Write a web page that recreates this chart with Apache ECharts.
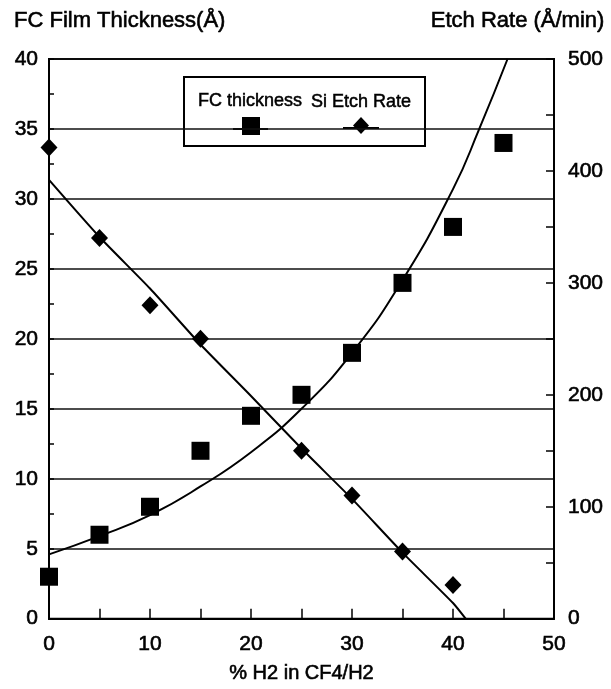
<!DOCTYPE html>
<html>
<head>
<meta charset="utf-8">
<script src="https://cdn.jsdelivr.net/npm/echarts@6/dist/echarts.min.js"></script>
<style>
  html, body { margin: 0; padding: 0; background: #fff; }
  #chart { width: 611px; height: 689px; }
</style>
</head>
<body>
<div id="chart"></div>
<script>
// ---- Data ----
const fcX = [0, 5, 10, 15, 20, 25, 30, 35, 40, 45];
const fcThickness = [3.0, 6.0, 8.0, 12.0, 14.5, 16.0, 19.0, 24.0, 28.0, 34.0];

const etchX = [0, 5, 10, 15, 25, 30, 35, 40];
const etchRate = [421, 340, 280, 250, 150, 110, 60, 30];

// fitted curves as drawn in the reference
const fcFitX = [0, 5, 10, 15, 20, 25, 30, 35, 40, 42.6, 45.4];
const fcFitY = [4.6, 5.9, 7.4, 9.45, 11.9, 15.0, 19.0, 24.2, 30.7, 35, 40];

const etchFitX = [0, 5, 10, 15, 20, 25, 30, 35, 40, 41.25];
const etchFitY = [392, 341, 295, 245, 199, 152, 107, 59, 14, 0];

const leftTitle = 'FC Film Thickness(Å)';
const rightTitle = 'Etch Rate (Å/min)';
const xTitle = '% H2 in CF4/H2';
const legendNames = ['FC thickness', 'Si Etch Rate'];

const FONT = '"Liberation Sans", Arial, Helvetica, sans-serif';
const zip = (xs, ys) => xs.map((x, i) => [x, ys[i]]);
const heavy = { textBorderColor: '#000', textBorderWidth: 0.6 };

const chart = echarts.init(document.getElementById('chart'), null, { renderer: 'canvas' });

const option = {
  backgroundColor: '#fff',
  animation: false,
  textStyle: { fontFamily: FONT, color: '#000' },
  title: [
    { text: leftTitle, left: 14, top: 10, padding: 0,
      textStyle: Object.assign({ fontFamily: FONT, fontSize: 22, fontWeight: 'normal', color: '#000' }, heavy) },
    { text: rightTitle, right: 6, top: 10, padding: 0,
      textStyle: Object.assign({ fontFamily: FONT, fontSize: 22, fontWeight: 'normal', color: '#000' }, heavy) }
  ],
  grid: {
    left: 49, right: 57, top: 59, bottom: 70,
    show: true, borderColor: '#000', borderWidth: 2, backgroundColor: 'transparent'
  },
  xAxis: {
    type: 'value', min: 0, max: 50, interval: 10,
    name: xTitle, nameLocation: 'middle', nameGap: 45,
    nameTextStyle: Object.assign({ fontFamily: FONT, fontSize: 20, color: '#000' }, heavy),
    axisLine: { show: true, lineStyle: { color: '#000', width: 2 } },
    axisTick: { show: true, inside: true, length: 10, lineStyle: { color: '#000', width: 1.5 } },
    minorTick: { show: true, splitNumber: 2, length: 10, lineStyle: { color: '#000', width: 1.5 } },
    axisLabel: Object.assign({ fontFamily: FONT, fontSize: 21, color: '#000', margin: 15 }, heavy),
    splitLine: { show: false }
  },
  yAxis: [
    {
      type: 'value', min: 0, max: 40, interval: 5, position: 'left',
      axisLine: { show: true, lineStyle: { color: '#000', width: 2 } },
      axisTick: { show: true, inside: true, length: 5, lineStyle: { color: '#000', width: 1.5 } },
      minorTick: { show: true, splitNumber: 2, length: 5, lineStyle: { color: '#000', width: 1.5 } },
      axisLabel: Object.assign({ fontFamily: FONT, fontSize: 21, color: '#000', margin: 11 }, heavy),
      splitLine: { show: true, lineStyle: { color: '#111', width: 1.6 } }
    },
    {
      type: 'value', min: 0, max: 500, interval: 100, position: 'right',
      axisLine: { show: true, lineStyle: { color: '#000', width: 2 } },
      axisTick: { show: true, inside: true, length: 8, lineStyle: { color: '#000', width: 1.5 } },
      minorTick: { show: true, splitNumber: 2, length: 8, lineStyle: { color: '#000', width: 1.5 } },
      axisLabel: Object.assign({ fontFamily: FONT, fontSize: 21, color: '#000', margin: 14 }, heavy),
      splitLine: { show: false }
    }
  ],
  graphic: [
    {
      type: 'group', left: 183, top: 76, z: 50,
      children: [
        { type: 'rect', shape: { x: 0, y: 0, width: 241, height: 69 },
          style: { fill: '#fff', stroke: '#000', lineWidth: 2 } },
        { type: 'text', x: 66, y: 24,
          style: { text: legendNames[0], font: '18px ' + FONT, fill: '#000', stroke: '#000', lineWidth: 0.5,
                   align: 'center', verticalAlign: 'middle' } },
        { type: 'text', x: 177, y: 25,
          style: { text: legendNames[1], font: '18px ' + FONT, fill: '#000', stroke: '#000', lineWidth: 0.5,
                   align: 'center', verticalAlign: 'middle' } },
        { type: 'line', shape: { x1: 49, y1: 52, x2: 84, y2: 52 }, style: { stroke: '#000', lineWidth: 2 } },
        { type: 'rect', shape: { x: 58, y: 40, width: 18, height: 18 }, style: { fill: '#000' } },
        { type: 'line', shape: { x1: 159, y1: 51, x2: 195, y2: 51 }, style: { stroke: '#000', lineWidth: 2 } },
        { type: 'polygon', shape: { points: [[177, 40], [185, 48.5], [177, 57], [169, 48.5]] }, style: { fill: '#000' } }
      ]
    }
  ],
  series: [
    {
      name: 'FC fit', type: 'line', xAxisIndex: 0, yAxisIndex: 0,
      data: zip(fcFitX, fcFitY), smooth: 0.5, showSymbol: false, symbol: 'none',
      lineStyle: { color: '#000', width: 2 }, silent: true, z: 3
    },
    {
      name: 'Etch fit', type: 'line', xAxisIndex: 0, yAxisIndex: 1,
      data: zip(etchFitX, etchFitY), smooth: 0.2, showSymbol: false, symbol: 'none',
      lineStyle: { color: '#000', width: 2 }, silent: true, z: 3
    },
    {
      name: legendNames[0], type: 'scatter', xAxisIndex: 0, yAxisIndex: 0,
      data: zip(fcX, fcThickness), symbol: 'rect', symbolSize: 18,
      itemStyle: { color: '#000', opacity: 1 }, clip: false, z: 4
    },
    {
      name: legendNames[1], type: 'scatter', xAxisIndex: 0, yAxisIndex: 1,
      data: zip(etchX, etchRate), symbol: 'diamond', symbolSize: [17, 18],
      itemStyle: { color: '#000', opacity: 1 }, clip: false, z: 4
    }
  ]
};

chart.setOption(option);
</script>
</body>
</html>
